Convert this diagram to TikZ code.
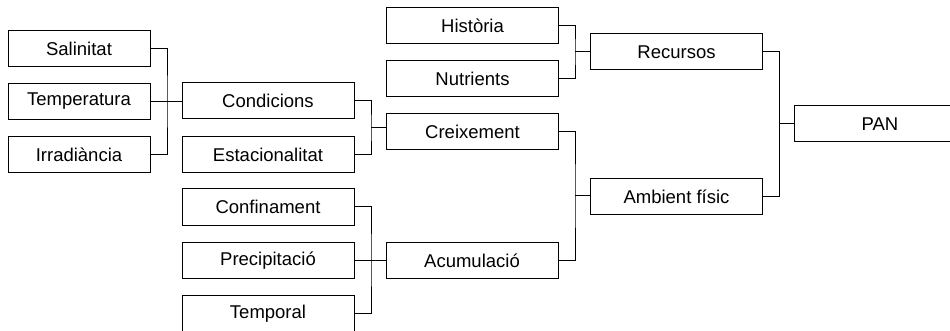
\documentclass[tikz,border=0pt]{standalone}
\usepackage{fontspec}
\setmainfont{Liberation Sans}
\begin{document}
\begin{tikzpicture}[x=1pt,y=-1pt,
  box/.style={draw, line width=1pt, minimum height=36pt, inner sep=0pt, font=\fontsize{18.5}{21}\selectfont},
  wide/.style={box, minimum width=172pt},
  narrow/.style={box, minimum width=142pt},
  link/.style={line width=1pt}]
\useasboundingbox (0,0) rectangle (950,331);
\node[narrow] (sal) at (79,48.5) {Salinitat};
\node[narrow] (tem) at (79,101.5) {Temperatura};
\node[narrow] (irr) at (79,155) {Irradiància};
\node[wide] (con) at (268,101) {Condicions};
\node[wide] (est) at (268,155) {Estacionalitat};
\node[wide] (cnf) at (268,207) {Confinament};
\node[wide] (pre) at (268,260.5) {Precipitació};
\node[wide] (tmp) at (268,313.5) {Temporal};
\node[wide] (his) at (472.5,25.5) {Història};
\node[wide] (nut) at (472.5,79) {Nutrients};
\node[wide] (cre) at (472.5,131.5) {Creixement};
\node[wide] (acu) at (472,260.5) {Acumulació};
\node[wide] (rec) at (676.5,52) {Recursos};
\node[wide] (amb) at (676.5,196.5) {Ambient físic};
\node[wide] (pan) at (880,124) {PAN};

\coordinate (ja) at (167,101.5);
\draw[link] (sal.east) -| (ja) |- (irr.east);
\draw[link] (tem.east) -- (tem.east -| con.west);

\coordinate (jb) at (371,128);
\draw[link] (con.east) -| (jb) |- (est.east);
\draw[link] (jb) -- (jb -| cre.west);

\coordinate (jc) at (371,260.5);
\draw[link] (cnf.east) -| (jc) |- (tmp.east);
\draw[link] (pre.east) -- (acu.west);

\coordinate (jd) at (575,52);
\draw[link] (his.east) -| (jd) |- (nut.east);
\draw[link] (jd) -- (jd -| rec.west);

\coordinate (je) at (575,196);
\draw[link] (cre.east) -| (je) |- (acu.east);
\draw[link] (je) -- (je -| amb.west);

\coordinate (jf) at (779,124);
\draw[link] (rec.east) -| (jf) |- (amb.east);
\draw[link] (jf) -- (jf -| pan.west);
\end{tikzpicture}
\end{document}
